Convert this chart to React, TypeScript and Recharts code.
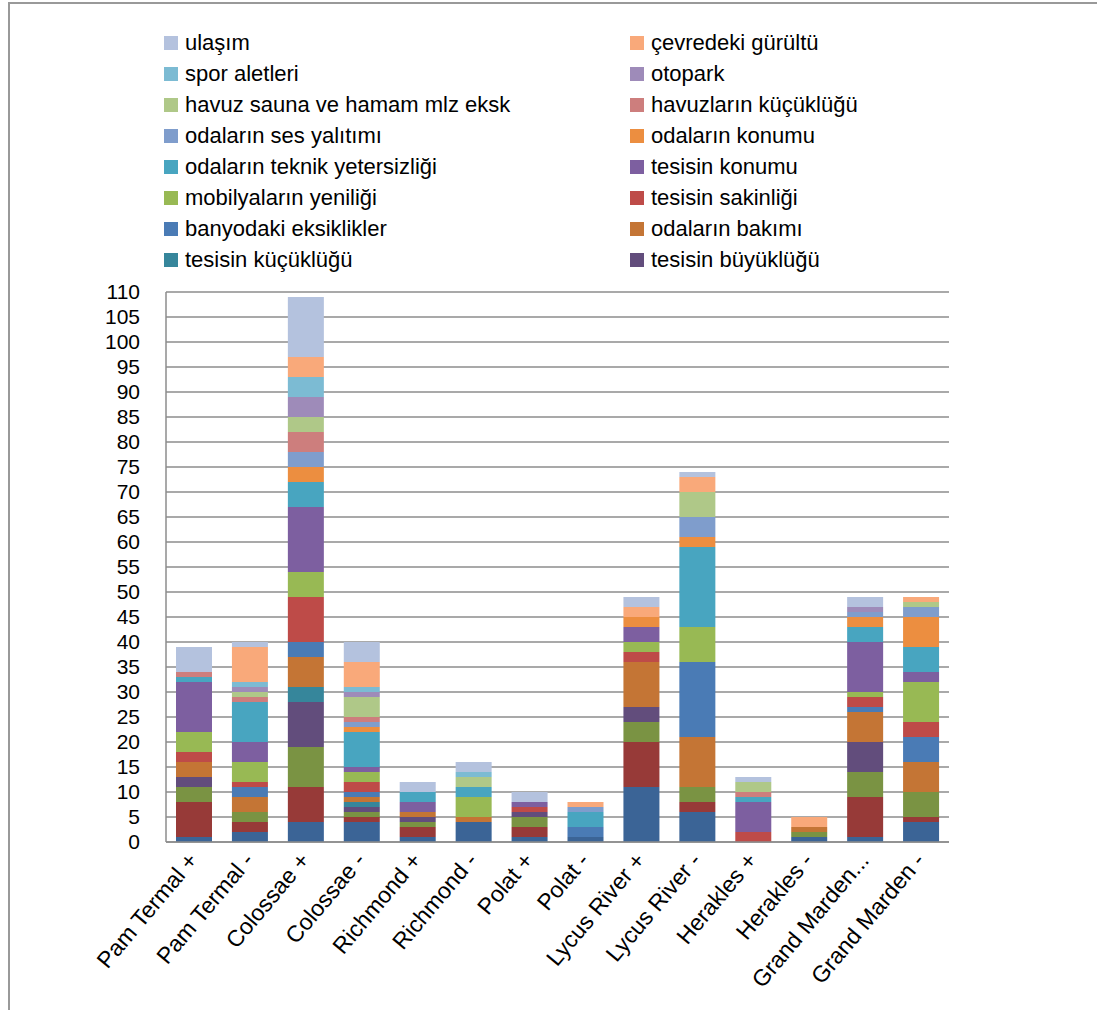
import React from "react"
import { BarChart, Bar, XAxis, YAxis, CartesianGrid } from "recharts"

const categories = [
  "Pam Termal +",
  "Pam Termal -",
  "Colossae +",
  "Colossae -",
  "Richmond +",
  "Richmond -",
  "Polat +",
  "Polat -",
  "Lycus River +",
  "Lycus River -",
  "Herakles +",
  "Herakles -",
  "Grand Marden...",
  "Grand Marden -",
]

// stacked bottom -> top; the first three are cut off from the legend in the original
const seri1 = [1, 2, 4, 4, 1, 4, 1, 1, 11, 6, 0, 1, 1, 4]
const seri2 = [7, 2, 7, 1, 2, 0, 2, 0, 9, 2, 0, 0, 8, 1]
const seri3 = [3, 2, 8, 1, 1, 0, 2, 0, 4, 3, 0, 1, 5, 5]
const tesisinBuyuklugu = [2, 0, 9, 1, 1, 0, 1, 0, 3, 0, 0, 0, 6, 0]
const tesisinKucuklugu = [0, 0, 3, 1, 0, 0, 0, 0, 0, 0, 0, 0, 0, 0]
const odalarinBakimi = [3, 3, 6, 1, 1, 1, 0, 0, 9, 10, 0, 1, 6, 6]
const banyodakiEksiklikler = [0, 2, 3, 1, 0, 0, 0, 2, 0, 15, 0, 0, 1, 5]
const tesisinSakinligi = [2, 1, 9, 2, 0, 0, 1, 0, 2, 0, 2, 0, 2, 3]
const mobilyalarinYeniligi = [4, 4, 5, 2, 0, 4, 0, 0, 2, 7, 0, 0, 1, 8]
const tesisinKonumu = [10, 4, 13, 1, 2, 0, 1, 0, 3, 0, 6, 0, 10, 2]
const odalarinTeknik = [1, 8, 5, 7, 2, 2, 0, 3, 0, 16, 1, 0, 3, 5]
const odalarinKonumu = [0, 0, 3, 1, 0, 0, 0, 0, 2, 2, 0, 0, 2, 6]
const odalarinSesYalitimi = [0, 0, 3, 1, 0, 0, 0, 1, 0, 4, 0, 0, 1, 2]
const havuzlarinKucuklugu = [1, 1, 4, 1, 0, 0, 0, 0, 0, 0, 1, 0, 0, 0]
const havuzSauna = [0, 1, 3, 4, 0, 2, 0, 0, 0, 5, 2, 0, 0, 1]
const otopark = [0, 1, 4, 1, 0, 0, 0, 0, 0, 0, 0, 0, 1, 0]
const sporAletleri = [0, 1, 4, 1, 0, 1, 0, 0, 0, 0, 0, 0, 0, 0]
const cevredekiGurultu = [0, 7, 4, 5, 0, 0, 0, 1, 2, 3, 0, 2, 0, 1]
const ulasim = [5, 1, 12, 4, 2, 2, 2, 0, 2, 1, 1, 0, 2, 0]

const yTicks = [0, 5, 10, 15, 20, 25, 30, 35, 40, 45, 50, 55, 60, 65, 70, 75, 80, 85, 90, 95, 100, 105, 110]

const SERIES = [
  { key: "s1", name: "seri 1", values: seri1, color: "#3b6496" },
  { key: "s2", name: "seri 2", values: seri2, color: "#973a38" },
  { key: "s3", name: "seri 3", values: seri3, color: "#7a9343" },
  { key: "s4", name: "tesisin büyüklüğü", values: tesisinBuyuklugu, color: "#624d7c" },
  { key: "s5", name: "tesisin küçüklüğü", values: tesisinKucuklugu, color: "#36869b" },
  { key: "s6", name: "odaların bakımı", values: odalarinBakimi, color: "#c47535" },
  { key: "s7", name: "banyodaki eksiklikler", values: banyodakiEksiklikler, color: "#4a7bb5" },
  { key: "s8", name: "tesisin sakinliği", values: tesisinSakinligi, color: "#be4b48" },
  { key: "s9", name: "mobilyaların yeniliği", values: mobilyalarinYeniligi, color: "#98b954" },
  { key: "s10", name: "tesisin konumu", values: tesisinKonumu, color: "#7d5fa0" },
  { key: "s11", name: "odaların teknik yetersizliği", values: odalarinTeknik, color: "#48a5c0" },
  { key: "s12", name: "odaların konumu", values: odalarinKonumu, color: "#ec8e40" },
  { key: "s13", name: "odaların ses yalıtımı", values: odalarinSesYalitimi, color: "#7f9dcc" },
  { key: "s14", name: "havuzların küçüklüğü", values: havuzlarinKucuklugu, color: "#cd7e7d" },
  { key: "s15", name: "havuz sauna ve hamam mlz eksk", values: havuzSauna, color: "#afc888" },
  { key: "s16", name: "otopark", values: otopark, color: "#9e8bb9" },
  { key: "s17", name: "spor aletleri", values: sporAletleri, color: "#7cbbd3" },
  { key: "s18", name: "çevredeki gürültü", values: cevredekiGurultu, color: "#f9a97a" },
  { key: "s19", name: "ulaşım", values: ulasim, color: "#b4c2de" },
]

// legend shows series top -> bottom, two per row; last three don't fit
const legendItems = SERIES.slice(3).reverse()

const data = categories.map((name, i) => {
  const row: Record<string, any> = { name }
  SERIES.forEach((s) => (row[s.key] = s.values[i]))
  return row
})

const FONT = "'Liberation Sans', Arial, sans-serif"
const GRID = "#8c8c8c"

const XTick = (props: any) => {
  const { x, y, payload } = props
  const tx = x + 5
  const ty = y + 17
  return (
    <text x={tx} y={ty} transform={`rotate(-50, ${tx}, ${ty})`} textAnchor="end" fontSize={23} fontFamily={FONT} fill="#000">
      {payload.value}
    </text>
  )
}

export default function App() {
  return (
    <div style={{ position: "absolute", left: 0, top: 0, width: 1097, height: 1010, overflow: "hidden", background: "#fff", fontFamily: FONT }}>
      <div style={{ position: "absolute", left: 8, top: 2, width: 1200, height: 1200, borderLeft: "2px solid #999", borderTop: "2px solid #999" }} />
      <div style={{ position: "absolute", left: 164, top: 27, width: 940, display: "grid", gridTemplateColumns: "466px 466px", gridAutoRows: "31px" }}>
        {legendItems.map((s) => (
          <div key={s.key} style={{ display: "flex", alignItems: "center", fontSize: 22, color: "#000", whiteSpace: "nowrap" }}>
            <span style={{ display: "inline-block", width: 14, height: 14, background: s.color, marginRight: 7 }} />
            {s.name}
          </div>
        ))}
      </div>
      <BarChart
        width={1097}
        height={1010}
        data={data}
        margin={{ top: 292, right: 148, bottom: 68, left: 106 }}
        barSize={36}
        style={{ position: "absolute", left: 0, top: 0 }}
      >
        <CartesianGrid vertical={false} stroke={GRID} strokeWidth={1.5} />
        <XAxis
          dataKey="name"
          height={100}
          interval={0}
          tick={<XTick />}
          tickLine={false}
          tickSize={0}
          axisLine={{ stroke: GRID, strokeWidth: 1.5 }}
        />
        <YAxis
          width={60}
          domain={[0, 110]}
          ticks={yTicks}
          interval={0}
          tickLine={false}
          tickSize={0}
          tickMargin={26}
          axisLine={{ stroke: GRID, strokeWidth: 1.5 }}
          tick={{ fill: "#000", fontSize: 21, fontFamily: FONT }}
        />
        {SERIES.map((s) => (
          <Bar key={s.key} dataKey={s.key} name={s.name} stackId="a" fill={s.color} isAnimationActive={false} />
        ))}
      </BarChart>
    </div>
  )
}
